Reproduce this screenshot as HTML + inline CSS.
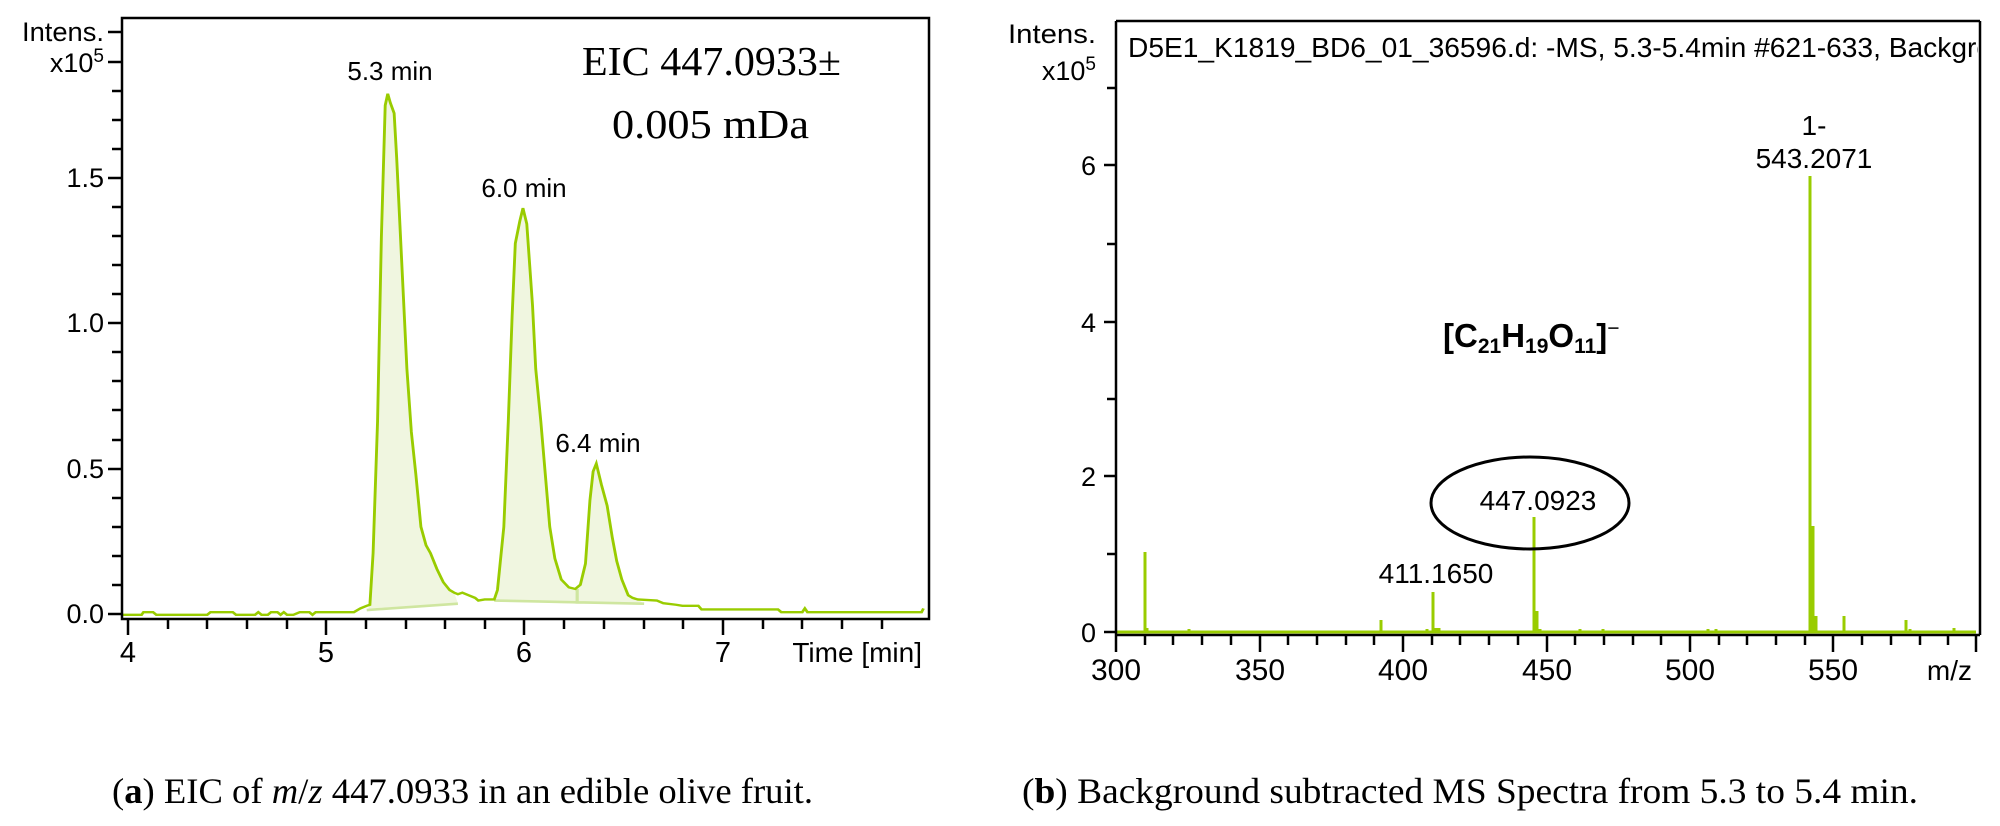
<!DOCTYPE html>
<html><head><meta charset="utf-8"><style>
html,body{margin:0;padding:0;background:#fff;}
svg{display:block;}
text{font-family:"Liberation Sans",sans-serif;fill:#000;}
.serif{font-family:"Liberation Serif",serif;}
</style></head><body>
<svg width="2000" height="826" viewBox="0 0 2000 826" xmlns="http://www.w3.org/2000/svg">
<!-- LEFT PLOT -->
<g transform="scale(0.63776,0.52679)">
<path d="M578,1155 L585,1050 L592,800 L598,450 L604,200 L608,178 L612,195 L618,215 L622,300 L630,500 L638,700 L645,820 L652,900 L660,1000 L668,1035 L675,1050 L685,1080 L695,1105 L705,1120 L712,1125 L718,1145 Z" fill="#f0f6e0"/>
<path d="M775,1140 L780,1120 L790,1000 L797,800 L803,600 L808,462 L815,420 L820,395 L826,425 L835,580 L840,700 L848,800 L855,900 L862,1000 L870,1060 L880,1100 L892,1115 L902,1118 L905,1146 Z" fill="#f0f6e0"/>
<path d="M905,1146 L905,1118 L910,1110 L918,1070 L925,950 L930,895 L935,880 L943,920 L952,960 L960,1020 L967,1065 L975,1100 L985,1130 L992,1135 L1000,1138 L1010,1146 Z" fill="#f0f6e0"/>
<path d="M575,1158 L718,1146 M775,1140 L1010,1146 M905,1118 L905,1146" stroke="#cfe6a0" stroke-width="5" fill="none"/>
<path d="M192,1167 L222,1167 L225,1162 L240,1162 L245,1167 L325,1167 L330,1162 L365,1162 L370,1167 L400,1167 L405,1162 L410,1167 L420,1167 L425,1162 L435,1162 L440,1167 L445,1162 L450,1167 L460,1167 L470,1162 L485,1162 L490,1167 L495,1162 L555,1162 L565,1155 L575,1150 L580,1148 L585,1050 L592,800 L598,450 L604,200 L608,178 L612,195 L618,215 L622,300 L630,500 L638,700 L645,820 L652,900 L660,1000 L668,1035 L675,1050 L685,1080 L695,1105 L705,1120 L712,1125 L718,1128 L725,1125 L735,1130 L745,1135 L750,1140 L760,1138 L775,1138 L780,1120 L790,1000 L797,800 L803,600 L808,462 L815,420 L820,395 L826,425 L835,580 L840,700 L848,800 L855,900 L862,1000 L870,1060 L880,1100 L892,1115 L902,1118 L910,1110 L918,1070 L925,950 L930,895 L935,880 L943,920 L952,960 L960,1020 L967,1065 L975,1100 L985,1130 L992,1135 L1000,1138 L1030,1140 L1040,1145 L1060,1148 L1070,1150 L1095,1150 L1100,1157 L1220,1157 L1225,1162 L1258,1162 L1262,1155 L1266,1162 L1445,1162 L1448,1155" stroke="#99cc00" stroke-width="4.5" fill="none"/>
</g>
<rect x="122" y="18" width="807" height="601" fill="none" stroke="#000" stroke-width="2.5"/>
<g stroke="#000" stroke-width="2.5">
<line x1="108" y1="32" x2="122" y2="32"/><line x1="108" y1="62" x2="122" y2="62"/>
<line x1="108" y1="614" x2="122" y2="614"/><line x1="112" y1="585" x2="122" y2="585"/><line x1="112" y1="556" x2="122" y2="556"/><line x1="112" y1="527" x2="122" y2="527"/><line x1="112" y1="498" x2="122" y2="498"/>
<line x1="108" y1="469" x2="122" y2="469"/><line x1="112" y1="440" x2="122" y2="440"/><line x1="112" y1="410" x2="122" y2="410"/><line x1="112" y1="381" x2="122" y2="381"/><line x1="112" y1="352" x2="122" y2="352"/>
<line x1="108" y1="323" x2="122" y2="323"/><line x1="112" y1="294" x2="122" y2="294"/><line x1="112" y1="265" x2="122" y2="265"/><line x1="112" y1="236" x2="122" y2="236"/><line x1="112" y1="207" x2="122" y2="207"/>
<line x1="108" y1="178" x2="122" y2="178"/><line x1="112" y1="149" x2="122" y2="149"/><line x1="112" y1="120" x2="122" y2="120"/><line x1="112" y1="91" x2="122" y2="91"/>
<line x1="128" y1="619" x2="128" y2="635"/><line x1="168" y1="619" x2="168" y2="629"/><line x1="207" y1="619" x2="207" y2="629"/><line x1="247" y1="619" x2="247" y2="629"/><line x1="287" y1="619" x2="287" y2="629"/>
<line x1="326" y1="619" x2="326" y2="635"/><line x1="366" y1="619" x2="366" y2="629"/><line x1="406" y1="619" x2="406" y2="629"/><line x1="445" y1="619" x2="445" y2="629"/><line x1="485" y1="619" x2="485" y2="629"/>
<line x1="524" y1="619" x2="524" y2="635"/><line x1="564" y1="619" x2="564" y2="629"/><line x1="604" y1="619" x2="604" y2="629"/><line x1="644" y1="619" x2="644" y2="629"/><line x1="683" y1="619" x2="683" y2="629"/>
<line x1="723" y1="619" x2="723" y2="635"/><line x1="763" y1="619" x2="763" y2="629"/><line x1="802" y1="619" x2="802" y2="629"/><line x1="842" y1="619" x2="842" y2="629"/><line x1="882" y1="619" x2="882" y2="629"/>
</g>
<g font-size="27" text-anchor="end">
<text x="104" y="41" textLength="82" lengthAdjust="spacingAndGlyphs">Intens.</text>
<text x="104" y="72">x10<tspan font-size="19" dy="-10">5</tspan></text>
<text x="104" y="187">1.5</text><text x="104" y="332">1.0</text><text x="104" y="478">0.5</text><text x="104" y="623">0.0</text>
</g>
<g font-size="29" text-anchor="middle">
<text x="128" y="662">4</text><text x="326" y="662">5</text><text x="524" y="662">6</text><text x="723" y="662">7</text>
</g>
<text x="922" y="662" font-size="28" text-anchor="end">Time [min]</text>
<g font-size="26" text-anchor="middle">
<text x="390" y="80">5.3 min</text><text x="524" y="197">6.0 min</text><text x="598" y="452">6.4 min</text>
</g>
<text class="serif" x="582" y="75" font-size="41" textLength="259" lengthAdjust="spacingAndGlyphs">EIC 447.0933±</text>
<text class="serif" x="612" y="138" font-size="41" textLength="197" lengthAdjust="spacingAndGlyphs">0.005 mDa</text>

<!-- RIGHT PLOT -->
<g stroke="#99cc00" stroke-width="3" fill="none">
<line x1="1116" y1="632" x2="1976" y2="632" stroke-width="3"/>
<line x1="1145" y1="632" x2="1145" y2="552"/>
<line x1="1147" y1="632" x2="1147" y2="628"/>
<line x1="1189" y1="632" x2="1189" y2="629"/>
<line x1="1381" y1="632" x2="1381" y2="620"/>
<line x1="1427" y1="632" x2="1427" y2="629"/>
<line x1="1433" y1="632" x2="1433" y2="592"/>
<line x1="1436" y1="632" x2="1436" y2="628"/><line x1="1439" y1="632" x2="1439" y2="628"/>
<line x1="1534" y1="632" x2="1534" y2="517"/>
<line x1="1537" y1="632" x2="1537" y2="611"/>
<line x1="1540" y1="632" x2="1540" y2="629"/>
<line x1="1580" y1="632" x2="1580" y2="629"/><line x1="1603" y1="632" x2="1603" y2="629"/>
<line x1="1708" y1="632" x2="1708" y2="629"/><line x1="1716" y1="632" x2="1716" y2="629"/>
<line x1="1810" y1="632" x2="1810" y2="176"/>
<line x1="1813" y1="632" x2="1813" y2="526"/>
<line x1="1816" y1="632" x2="1816" y2="616"/>
<line x1="1844" y1="632" x2="1844" y2="616"/>
<line x1="1906" y1="632" x2="1906" y2="620"/>
<line x1="1910" y1="632" x2="1910" y2="629"/>
<line x1="1954" y1="632" x2="1954" y2="628"/>
</g>
<line x1="1116" y1="21" x2="1980" y2="21" stroke="#000" stroke-width="2.5"/>
<line x1="1116" y1="21" x2="1116" y2="635" stroke="#000" stroke-width="2.5"/>
<line x1="1980" y1="21" x2="1980" y2="635" stroke="#000" stroke-width="2.5"/>
<line x1="1116" y1="635" x2="1980" y2="635" stroke="#000" stroke-width="2.5"/>
<g stroke="#000" stroke-width="2.5">
<line x1="1104" y1="632" x2="1116" y2="632"/><line x1="1107" y1="554" x2="1116" y2="554"/><line x1="1104" y1="476" x2="1116" y2="476"/><line x1="1107" y1="399" x2="1116" y2="399"/><line x1="1104" y1="322" x2="1116" y2="322"/><line x1="1107" y1="244" x2="1116" y2="244"/><line x1="1104" y1="165" x2="1116" y2="165"/><line x1="1107" y1="88" x2="1116" y2="88"/>
</g>
<g stroke="#000" stroke-width="2.5">
<line x1="1116" y1="635" x2="1116" y2="652"/><line x1="1145" y1="635" x2="1145" y2="645"/><line x1="1173" y1="635" x2="1173" y2="645"/><line x1="1202" y1="635" x2="1202" y2="645"/><line x1="1231" y1="635" x2="1231" y2="645"/>
<line x1="1260" y1="635" x2="1260" y2="652"/><line x1="1288" y1="635" x2="1288" y2="645"/><line x1="1317" y1="635" x2="1317" y2="645"/><line x1="1346" y1="635" x2="1346" y2="645"/><line x1="1374" y1="635" x2="1374" y2="645"/>
<line x1="1403" y1="635" x2="1403" y2="652"/><line x1="1432" y1="635" x2="1432" y2="645"/><line x1="1460" y1="635" x2="1460" y2="645"/><line x1="1489" y1="635" x2="1489" y2="645"/><line x1="1518" y1="635" x2="1518" y2="645"/>
<line x1="1547" y1="635" x2="1547" y2="652"/><line x1="1575" y1="635" x2="1575" y2="645"/><line x1="1604" y1="635" x2="1604" y2="645"/><line x1="1633" y1="635" x2="1633" y2="645"/><line x1="1661" y1="635" x2="1661" y2="645"/>
<line x1="1690" y1="635" x2="1690" y2="652"/><line x1="1719" y1="635" x2="1719" y2="645"/><line x1="1747" y1="635" x2="1747" y2="645"/><line x1="1776" y1="635" x2="1776" y2="645"/><line x1="1805" y1="635" x2="1805" y2="645"/>
<line x1="1833" y1="635" x2="1833" y2="652"/><line x1="1862" y1="635" x2="1862" y2="645"/><line x1="1891" y1="635" x2="1891" y2="645"/><line x1="1920" y1="635" x2="1920" y2="645"/><line x1="1948" y1="635" x2="1948" y2="645"/><line x1="1976" y1="635" x2="1976" y2="652"/>
</g>
<g font-size="27" text-anchor="end">
<text x="1096" y="43" textLength="88" lengthAdjust="spacingAndGlyphs">Intens.</text>
<text x="1096" y="80">x10<tspan font-size="19" dy="-10">5</tspan></text>
<text x="1096" y="642">0</text><text x="1096" y="486">2</text><text x="1096" y="332">4</text><text x="1096" y="175">6</text>
</g>
<g font-size="30" text-anchor="middle">
<text x="1116" y="680">300</text><text x="1260" y="680">350</text><text x="1403" y="680">400</text><text x="1547" y="680">450</text><text x="1690" y="680">500</text><text x="1833" y="680">550</text>
</g>
<text x="1972" y="680" font-size="28" text-anchor="end">m/z</text>
<svg x="1118" y="22" width="860" height="60"><text x="10" y="35" font-size="28" textLength="911" lengthAdjust="spacingAndGlyphs">D5E1_K1819_BD6_01_36596.d: -MS, 5.3-5.4min #621-633, Background</text></svg>
<g font-size="28" text-anchor="middle">
<text x="1814" y="135">1-</text>
<text x="1814" y="168">543.2071</text>
<text x="1436" y="583">411.1650</text>
<text x="1538" y="510">447.0923</text>
</g>
<ellipse cx="1530" cy="503" rx="99" ry="46" fill="none" stroke="#000" stroke-width="3"/>
<text x="1443" y="347" font-size="33" font-weight="bold">[C<tspan font-size="21" dy="6">21</tspan><tspan dy="-6">H</tspan><tspan font-size="21" dy="6">19</tspan><tspan dy="-6">O</tspan><tspan font-size="21" dy="6">11</tspan><tspan dy="-6">]</tspan><tspan font-size="21" dy="-12" font-weight="normal">−</tspan></text>

<!-- CAPTIONS -->
<text class="serif" x="112" y="803" font-size="36" textLength="701" lengthAdjust="spacingAndGlyphs">(<tspan font-weight="bold">a</tspan>) EIC of <tspan font-style="italic">m</tspan>/<tspan font-style="italic">z</tspan> 447.0933 in an edible olive fruit.</text>
<text class="serif" x="1022" y="803" font-size="36" textLength="896" lengthAdjust="spacingAndGlyphs">(<tspan font-weight="bold">b</tspan>) Background subtracted MS Spectra from 5.3 to 5.4 min.</text>
</svg>
</body></html>
